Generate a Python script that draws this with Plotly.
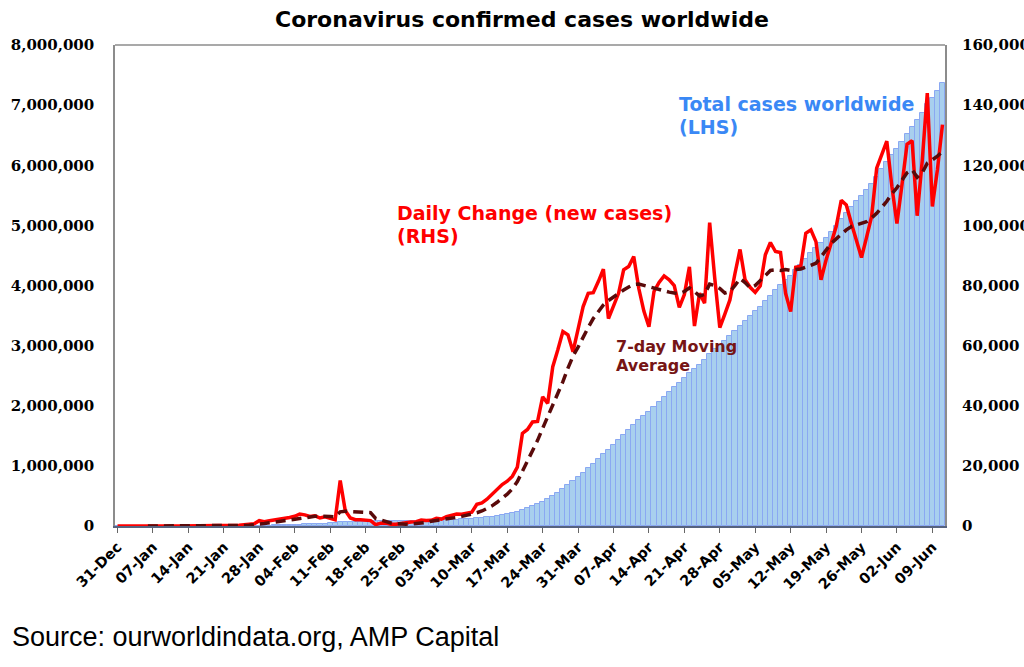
import pandas as pd
import plotly.graph_objects as go

# ---------------- data ----------------
dates = pd.date_range("2019-12-31", "2020-06-11", freq="D")

total_cases = [
    27, 27, 27, 44, 44, 59, 59, 59, 59, 59, 59, 59, 59, 60, 60, 60, 60, 64, 81, 217,
    236, 387, 527, 624, 883, 1340, 2028, 2797, 4568, 6027, 7764, 9745, 11844, 14433, 17258, 20493, 24393, 28093, 31243, 34643,
    37293, 40343, 42843, 44893, 60043, 65143, 67793, 69893, 71943, 73843, 75643, 76093, 77043, 78043, 78643, 79193, 80043, 80993, 82293, 83743,
    85693, 87493, 89393, 91943, 94243, 97343, 100943, 104943, 108843, 113243, 117843, 125043, 132743, 141643, 152143, 164243, 178043, 192943, 209443, 229043,
    259843, 291943, 326543, 361343, 404343, 445143, 498143, 556743, 621443, 685043, 743043, 808543, 881543, 958943, 1036543, 1117843, 1203243, 1272243, 1345743, 1423143,
    1508343, 1594643, 1684243, 1763243, 1834743, 1901043, 1979043, 2060043, 2143243, 2225143, 2305143, 2377843, 2454843, 2541043, 2607543, 2684943, 2759043, 2859943, 2942443, 3008443,
    3078943, 3154143, 3238143, 3330143, 3412043, 3491443, 3569143, 3649043, 3739243, 3833543, 3924843, 4015843, 4093243, 4164543, 4250643, 4337043, 4434443, 4532943, 4627543, 4709443,
    4797943, 4892443, 4992043, 5100343, 5207143, 5307843, 5402843, 5492143, 5588143, 5691143, 5810143, 5933643, 6061643, 6174643, 6275243, 6388743, 6515743, 6643943, 6747143, 6868643,
    7012643, 7118943, 7237443, 7370943,
]

daily_change = [
    27, 0, 0, 17, 0, 15, 0, 0, 0, 0, 0, 0, 0, 1, 0, 0, 0, 4, 17, 136,
    19, 151, 140, 97, 259, 457, 688, 769, 1771, 1459, 1737, 1981, 2099, 2589, 2825, 3235, 4000, 3700, 3150, 3400,
    2650, 3050, 2500, 2050, 15150, 5100, 2650, 2100, 2050, 1900, 1800, 450, 950, 1000, 600, 550, 850, 950, 1300, 1450,
    1950, 1800, 1900, 2550, 2300, 3100, 3600, 4000, 3900, 4400, 4600, 7200, 7700, 8900, 10500, 12100, 13800, 14900, 16500, 19600,
    30800, 32100, 34600, 34800, 43000, 40800, 53000, 58600, 64700, 63600, 58000, 65500, 73000, 77400, 77600, 81300, 85400, 69000, 73500, 77400,
    85200, 86300, 89600, 79000, 71500, 66300, 78000, 81000, 83200, 81900, 80000, 72700, 77000, 86200, 66500, 77400, 74100, 100900, 82500, 66000,
    70500, 75200, 84000, 92000, 81900, 79400, 77700, 79900, 90200, 94300, 91300, 91000, 77400, 71300, 86100, 86400, 97400, 98500, 94600, 81900,
    88500, 94500, 99600, 108300, 106800, 100700, 95000, 89300, 96000, 103000, 119000, 123500, 128000, 113000, 100600, 113500, 127000, 128200, 103200, 121500,
    144000, 106300, 118500, 133500,
]

# 7-day moving average starts on the 7th day (06-Jan)
ma_dates = dates[6:]
moving_avg = [
    9, 5, 5, 2, 2, 0, 0, 0, 0, 0, 1, 1, 3, 22,
    25, 47, 67, 81, 117, 182, 279, 387, 631, 824, 1053, 1306, 1540, 1819, 2094, 2300, 2640, 2900, 3050, 3220,
    3270, 3320, 3200, 3060, 4700, 4920, 4800, 4640, 4510, 4490, 4460, 2500, 2050, 1300, 1000, 800, 650, 600, 700, 800,
    1000, 1200, 1600, 1800, 2000, 2200, 2500, 2850, 3200, 3550, 3900, 4400, 5000, 5800, 6700, 7900, 9100, 10600, 12300, 14800,
    18200, 21500, 25000, 28500, 32500, 36300, 40000, 44000, 48000, 52500, 56500, 59500, 63000, 66000, 69000, 71500, 73500, 75000, 76200, 77500,
    78500, 79500, 80300, 80500, 80000, 79500, 79300, 78500, 78200, 77800, 77500, 77300, 78000, 79200, 78000, 76500, 77000, 80500, 80000, 79000,
    77500, 78000, 80000, 82300, 81000, 79200, 80000, 81800, 83500, 85000, 85200, 85000, 85300, 85000, 85300, 85500, 86100, 86800, 87400, 89500,
    91900, 94000, 95500, 97000, 98500, 99600, 100200, 100700, 101200, 102500, 104000, 106000, 108000, 110500, 112500, 115000, 117500, 118500, 116000, 117500,
    120700, 121800, 123000, 124600,
]

# ---------------- figure ----------------
BOLD = "DejaVu Sans"
fig = go.Figure()

fig.add_trace(go.Bar(
    x=dates, y=total_cases, name="Total cases worldwide (LHS)",
    marker=dict(color="#A8CFEE", line=dict(color="#8AA8F2", width=1)),
    yaxis="y",
))
fig.add_trace(go.Scatter(
    x=dates, y=daily_change, name="Daily Change (new cases) (RHS)",
    mode="lines", line=dict(color="#FF0000", width=3.5),
    yaxis="y2",
))
fig.add_trace(go.Scatter(
    x=ma_dates, y=moving_avg, name="7-day Moving Average",
    mode="lines", line=dict(color="#5A0A0A", width=3.5, dash="10px,6px"),
    yaxis="y2",
))

fig.update_layout(
    width=1024, height=667,
    margin=dict(l=115, r=79, t=45, b=141, autoexpand=False),
    paper_bgcolor="white", plot_bgcolor="white",
    showlegend=False, bargap=0,
    xaxis=dict(
        type="date", automargin=False,
        range=["2019-12-30 12:00", "2020-06-11 12:00"],
        tick0="2019-12-31", dtick=7 * 86400000, tickformat="%d-%b",
        tickangle=-45,
        tickfont=dict(family=BOLD, size=14.5, color="black", weight="bold"),
        ticks="outside", ticklen=5, tickcolor="#666",
        showline=True, linecolor="#56637F", linewidth=2,
        showgrid=False, zeroline=False,
    ),
    yaxis=dict(
        automargin=False,
        range=[0, 8000000], dtick=1000000, tickformat=",d",
        tickfont=dict(family="DejaVu Serif", size=15, color="black", weight="bold"),
        ticks="", ticklabelstandoff=16,
        showline=True, linecolor="#8C8C8C", linewidth=1.5, mirror=True,
        showgrid=False, zeroline=False,
    ),
    yaxis2=dict(
        overlaying="y", side="right", automargin=False,
        range=[0, 160000], dtick=20000, tickformat=",d",
        tickfont=dict(family="DejaVu Serif", size=15, color="black", weight="bold"),
        ticks="", ticklabelstandoff=16,
        showline=False, showgrid=False, zeroline=False,
    ),
    shapes=[dict(type="line", xref="paper", yref="paper", x0=0, x1=1, y0=1, y1=1,
                 line=dict(color="#8C8C8C", width=1.5))],
)

def note(text, x, y, size, color, family=BOLD, weight="bold", xanchor="left"):
    fig.add_annotation(text=text, xref="paper", yref="paper", x=x, y=y,
                       xanchor=xanchor, yanchor="middle", showarrow=False,
                       font=dict(family=family, size=size, color=color, weight=weight))

note("Coronavirus confirmed cases worldwide", 0.4904, 1.054, 22, "black", xanchor="center")
note("Total cases worldwide", 0.677, 0.877, 19, "#3A88F5")
note("(LHS)", 0.677, 0.8295, 19, "#3A88F5")
note("Daily Change (new cases)", 0.3373, 0.6507, 19, "#FF0000")
note("(RHS)", 0.3373, 0.6029, 19, "#FF0000")
note("7-day Moving", 0.601, 0.3742, 16, "#761515")
note("Average", 0.601, 0.3347, 16, "#761515")
note("Source: ourworldindata.org, AMP Capital", -0.1265, -0.2308, 27, "black",
     family="Liberation Sans", weight="normal")

fig.write_html("out.html", config={"displayModeBar": False},
               post_script="document.body.style.margin='0';")
